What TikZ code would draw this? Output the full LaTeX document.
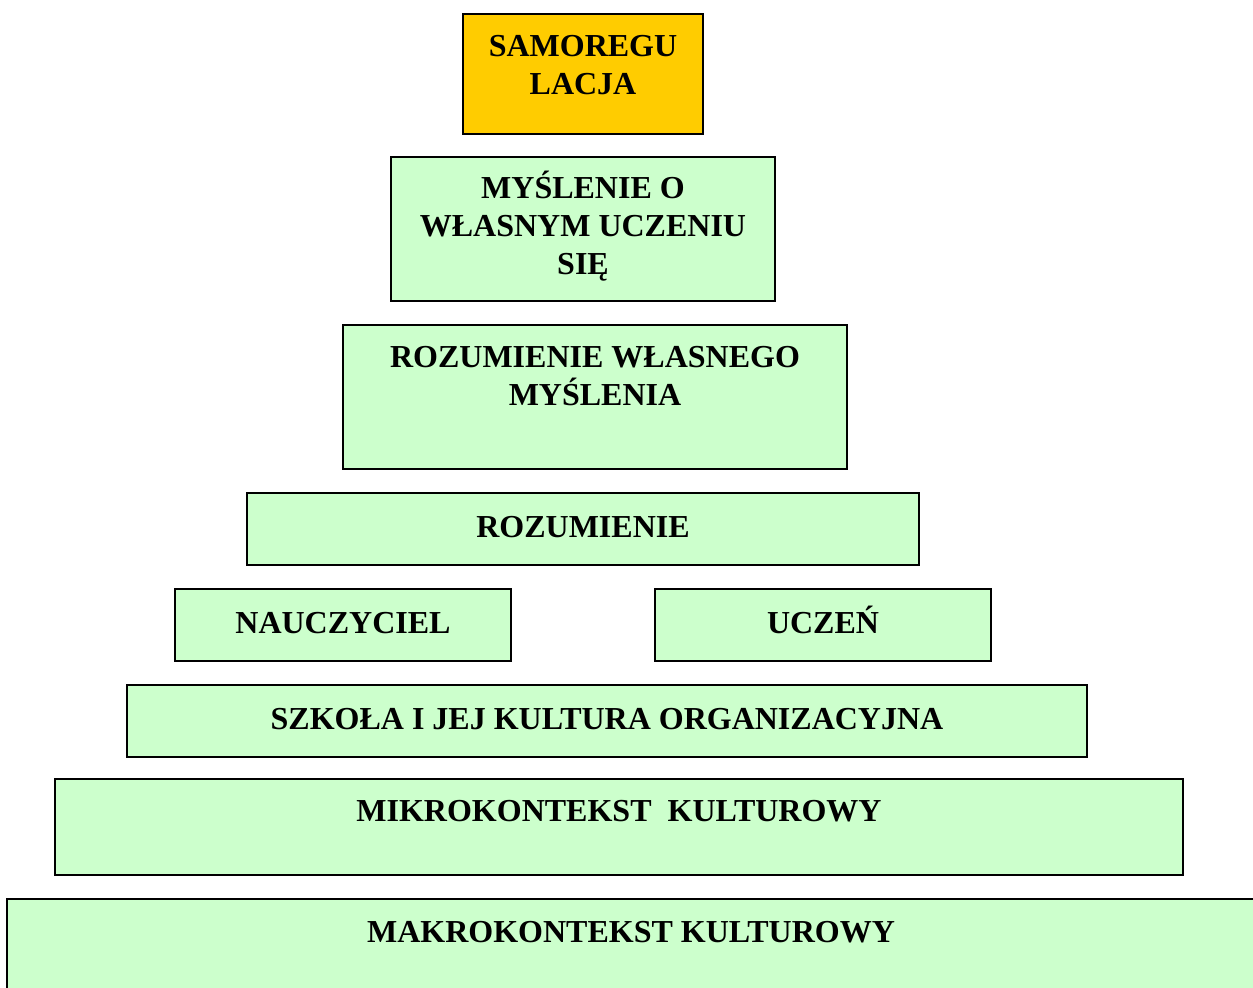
\documentclass[tikz,border=0pt]{standalone}
\usepackage{fontspec}
\setmainfont{Liberation Serif}
\usepackage{tikz}
\usetikzlibrary{positioning}

\definecolor{levelgreen}{HTML}{CCFFCC}
\definecolor{toporange}{HTML}{FFCC00}
\newcommand{\capstrut}{\rule{0pt}{15pt}}

\begin{document}
\begin{tikzpicture}[x=0.5pt, y=-0.5pt,
    level/.style={draw=black, line width=1pt, fill=levelgreen, inner sep=0pt},
    caption/.style={font=\fontsize{16}{19}\selectfont\bfseries, align=center,
        inner sep=0pt}]
    % Frame
    \clip (0,0) rectangle (1253,988);

    % Top of the pyramid
    \node[level, fill=toporange, minimum width=120pt, minimum height=60pt] (samoregulacja) at (583,74) {};
    \node[caption, below=6.8pt of samoregulacja.north] (samoregulacjatxt) {\capstrut SAMOREGU\\LACJA};

    % Metacognitive levels
    \node[level, minimum width=192pt, minimum height=72pt] (myslenie) at (583,229) {};
    \node[caption, below=6pt of myslenie.north] (mysleniettxt) {\capstrut MYŚLENIE O\\WŁASNYM UCZENIU\\SIĘ};

    \node[level, minimum width=252pt, minimum height=72pt] (rozumieniewl) at (595,397) {};
    \node[caption, below=6.8pt of rozumieniewl.north] (rozumieniewltxt) {\capstrut ROZUMIENIE WŁASNEGO\\MYŚLENIA};

    \node[level, minimum width=336pt, minimum height=36pt] (rozumienie) at (583,529) {};
    \node[caption, below=7.5pt of rozumienie.north] (rozumienietxt) {\capstrut ROZUMIENIE};

    % Actors
    \node[level, minimum width=168pt, minimum height=36pt] (nauczyciel) at (343,625) {};
    \node[caption, below=7.5pt of nauczyciel.north] (nauczycieltxt) {\capstrut NAUCZYCIEL};

    \node[level, minimum width=168pt, minimum height=36pt] (uczen) at (823,625) {};
    \node[caption, below=7.5pt of uczen.north] (uczentxt) {\capstrut UCZEŃ};

    % Contexts
    \node[level, minimum width=480pt, minimum height=36pt] (szkola) at (607,721) {};
    \node[caption, below=7.5pt of szkola.north] (szkolatxt) {\capstrut SZKOŁA I JEJ KULTURA ORGANIZACYJNA};

    \node[level, minimum width=564pt, minimum height=48pt] (mikro) at (619,827) {};
    \node[caption, below=6.5pt of mikro.north] (mikrotxt) {\capstrut MIKROKONTEKST~ KULTUROWY};

    \node[level, minimum width=624pt, minimum height=55pt] (makro) at (631,954) {};
    \node[caption, below=7pt of makro.north] (makrotxt) {\capstrut MAKROKONTEKST KULTUROWY};
\end{tikzpicture}
\end{document}
